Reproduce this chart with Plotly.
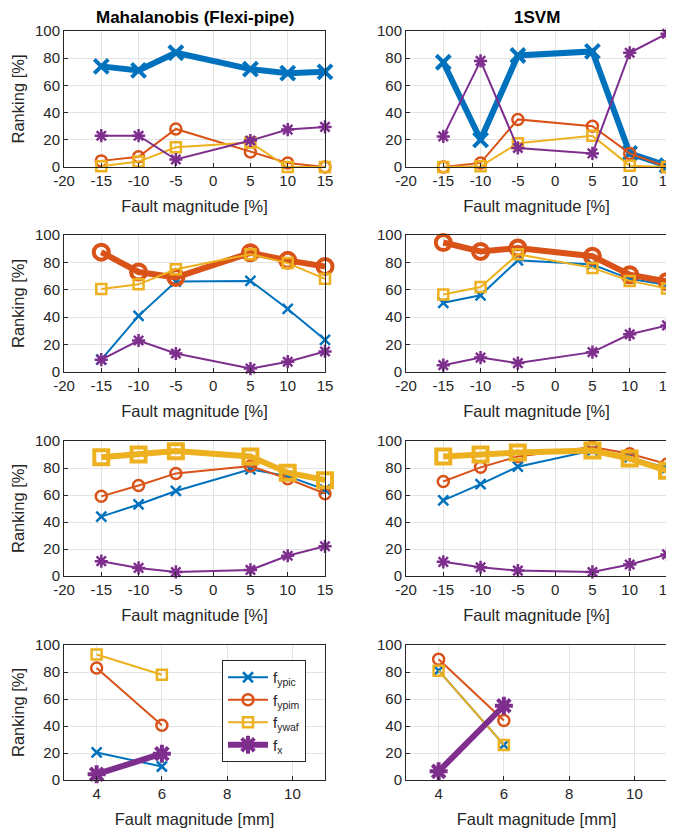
import plotly.graph_objects as go

# ---------------- data ----------------
x_pct = [-15, -10, -5, 5, 10, 15]
x_mm = [4, 6]

pct_tickvals = [-20, -15, -10, -5, 0, 5, 10, 15]
pct_ticktext = ["-20", "-15", "-10", "-5", "0", "5", "10", "15"]
mm_tickvals = [4, 6, 8, 10]
y_tickvals = [0, 20, 40, 60, 80, 100]

series_names = ["f<sub>ypic</sub>", "f<sub>ypim</sub>", "f<sub>ywaf</sub>", "f<sub>x</sub>"]

# Row 1 (Mahalanobis / 1SVM)
maha1_ypic = [74, 71, 84, 72, 69, 70]
maha1_ypim = [4.5, 7.5, 28, 11, 3, 0]
maha1_ywaf = [0.5, 4, 14.5, 18, 0, 0]
maha1_fx = [23, 23, 5.5, 19.5, 27.5, 29.5]

svm1_ypic = [77, 20, 82, 85, 10, 1]
svm1_ypim = [0, 3, 35, 30, 10, 0]
svm1_ywaf = [0, 0.5, 17.5, 23, 1, 0]
svm1_fx = [22.5, 78, 14, 10, 84, 98]

# Row 2
maha2_ypic = [9, 41, 66, 66.5, 46, 23.5]
maha2_ypim = [87.5, 73, 69, 87, 81.5, 77]
maha2_ywaf = [60.5, 64, 75, 86, 79.5, 68]
maha2_fx = [9, 23, 13.5, 2.5, 7.5, 15]

svm2_ypic = [50.5, 56, 81.5, 78.5, 68, 63.5]
svm2_ypim = [94.5, 88, 90.5, 84.5, 71, 66]
svm2_ywaf = [56.5, 62, 86, 76, 66.5, 61]
svm2_fx = [5, 10.5, 6.5, 14.5, 27.5, 34]

# Row 3
maha3_ypic = [44, 53, 63, 79, 74, 64]
maha3_ypim = [59, 67, 76, 81.5, 72, 61]
maha3_ywaf = [88, 90, 92.5, 88.5, 76.5, 71]
maha3_fx = [11, 6, 3, 4.5, 15, 22]

svm3_ypic = [56, 68, 81, 93, 88, 80]
svm3_ypim = [70, 80.5, 88.5, 95.5, 90.5, 83]
svm3_ywaf = [88.5, 90, 91.5, 93, 87, 78]
svm3_fx = [10.5, 6.5, 4, 3, 8.5, 16]

# Row 4 (mm)
maha4_ypic = [20.4, 10]
maha4_ypim = [83, 40.5]
maha4_ywaf = [93, 78]
maha4_fx = [4.3, 19.5]

svm4_ypic = [81, 26]
svm4_ypim = [89.5, 44]
svm4_ywaf = [81, 26]
svm4_fx = [6.4, 55]

titles = ["Mahalanobis (Flexi-pipe)", "1SVM"]
xlabel_pct = "Fault magnitude [%]"
xlabel_mm = "Fault magnitude [mm]"
ylabel = "Ranking [%]"

# ---------------- styling ----------------
colors = ["#0072BD", "#D95319", "#EDB120", "#7E2F8E"]
symbols = ["x-thin-open", "circle-open", "square-open", "asterisk-open"]
thin_size = [10, 11, 10, 11]
thick_size = [14, 15, 14, 15]

panels = [
    # (row, col, x, [series], thick index)
    (0, 0, x_pct, [maha1_ypic, maha1_ypim, maha1_ywaf, maha1_fx], 0),
    (0, 1, x_pct, [svm1_ypic, svm1_ypim, svm1_ywaf, svm1_fx], 0),
    (1, 0, x_pct, [maha2_ypic, maha2_ypim, maha2_ywaf, maha2_fx], 1),
    (1, 1, x_pct, [svm2_ypic, svm2_ypim, svm2_ywaf, svm2_fx], 1),
    (2, 0, x_pct, [maha3_ypic, maha3_ypim, maha3_ywaf, maha3_fx], 2),
    (2, 1, x_pct, [svm3_ypic, svm3_ypim, svm3_ywaf, svm3_fx], 2),
    (3, 0, x_mm, [maha4_ypic, maha4_ypim, maha4_ywaf, maha4_fx], 3),
    (3, 1, x_mm, [svm4_ypic, svm4_ypim, svm4_ywaf, svm4_fx], 3),
]

# page body has an 8px margin: lay out in window pixels minus that offset
OFF = 8
W, H = 674 - OFF, 830 - OFF
xdom_px = [(64, 325), (406, 667)]
ydom_px = [(31, 167), (235, 372), (441, 576), (645, 780)]


def px_x(p):
    return (p - OFF) / W


def px_y(p):
    return 1 - (p - OFF) / H


FONT = "Liberation Sans, Arial, Helvetica, sans-serif"
TXT = "#262626"

fig = go.Figure()
layout = {}

for k, (r, c, xs, series, thick) in enumerate(panels):
    idx = k + 1
    xa = "x" if idx == 1 else f"x{idx}"
    ya = "y" if idx == 1 else f"y{idx}"
    for s, ys in enumerate(series):
        is_thick = s == thick
        fig.add_trace(go.Scatter(
            x=xs, y=ys, xaxis=xa, yaxis=ya,
            mode="lines+markers",
            name=series_names[s],
            showlegend=(r == 3 and c == 0),
            cliponaxis=False,
            line=dict(color=colors[s], width=6 if is_thick else 2),
            marker=dict(
                symbol=symbols[s],
                size=thick_size[s] if is_thick else thin_size[s],
                color=colors[s],
                line=dict(color=colors[s], width=4 if is_thick else 2.5),
            ),
        ))
    x0, x1 = xdom_px[c]
    y0, y1 = ydom_px[r]
    common = dict(
        showline=True, linecolor=TXT, linewidth=1, mirror=True,
        ticks="inside", ticklen=4, tickcolor=TXT,
        showgrid=True, gridcolor="#e3e3e3", gridwidth=1,
        zeroline=False, automargin=False,
        tickfont=dict(family=FONT, size=15, color=TXT),
    )
    xkey = "xaxis" if idx == 1 else f"xaxis{idx}"
    ykey = "yaxis" if idx == 1 else f"yaxis{idx}"
    if r < 3:
        xd = dict(range=[-20, 15], tickmode="array", tickvals=pct_tickvals,
                  ticktext=pct_ticktext, title_text=xlabel_pct)
    else:
        xd = dict(range=[3, 11], tickmode="array", tickvals=mm_tickvals,
                  ticktext=[str(v) for v in mm_tickvals], title_text=xlabel_mm)
    title_text = xd.pop("title_text")
    layout[xkey] = dict(
        common, domain=[px_x(x0), px_x(x1)], anchor=ya, ticklabeloverflow="allow",
        title=dict(text=title_text, font=dict(family=FONT, size=16.5, color=TXT), standoff=12),
        **xd,
    )
    ydict = dict(
        common, domain=[px_y(y1), px_y(y0)], anchor=xa, range=[0, 100],
        tickmode="array", tickvals=y_tickvals, ticktext=[str(v) for v in y_tickvals],
    )
    if c == 0:
        ydict["title"] = dict(text=ylabel, font=dict(family=FONT, size=16.5, color=TXT), standoff=6)
    layout[ykey] = ydict

annotations = []
for c in range(2):
    x0, x1 = xdom_px[c]
    annotations.append(dict(
        text=f"<b>{titles[c]}</b>", x=px_x((x0 + x1) / 2), y=px_y(17),
        xref="paper", yref="paper", showarrow=False,
        xanchor="center", yanchor="middle",
        font=dict(family=FONT, size=17, color="#000000"),
    ))

fig.update_layout(
    **layout,
    annotations=annotations,
    width=W, height=H,
    margin=dict(l=0, r=0, t=0, b=0),
    paper_bgcolor="white", plot_bgcolor="white",
    font=dict(family=FONT, color=TXT),
    legend=dict(
        x=px_x(222), y=px_y(660), xanchor="left", yanchor="top",
        bgcolor="white", bordercolor=TXT, borderwidth=1,
        font=dict(family=FONT, size=15, color=TXT),
        tracegroupgap=0, itemwidth=40,
    ),
)

fig.write_html("out.html")
